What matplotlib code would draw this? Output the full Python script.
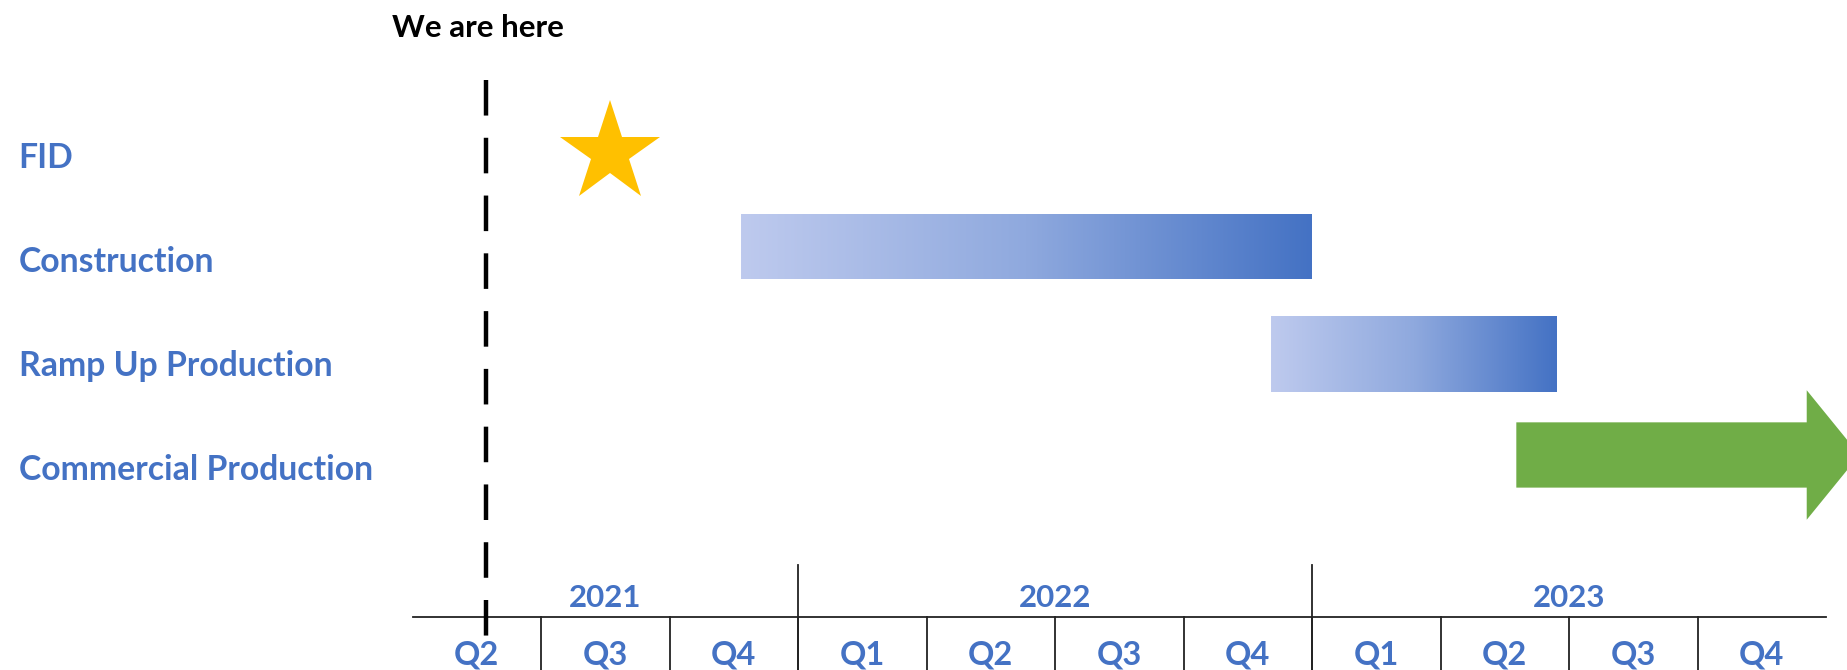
import numpy as np
import matplotlib
matplotlib.use("Agg")
import matplotlib.pyplot as plt
from matplotlib.colors import LinearSegmentedColormap
from matplotlib.patches import FancyArrow

# ---- data ----
tasks = ["FID", "Construction", "Ramp Up Production", "Commercial Production"]
quarter_labels = ["Q2", "Q3", "Q4", "Q1", "Q2", "Q3", "Q4", "Q1", "Q2", "Q3", "Q4"]
years = ["2021", "2022", "2023"]
quarters_per_year = [3, 4, 4]
fid_quarter = 1.54           # milestone (quarter index from start of 2021 Q2)
construction_span = (2.56, 7.0)
ramp_span = (6.68, 8.9)
commercial_start = 8.59
commercial_end = 11.26
today_quarter = 0.57
today_label = "We are here"

# ---- style ----
BLUE = "#4472C4"
LIGHT = "#BECAEE"
GREEN = "#70AD47"
GOLD = "#FFC000"
FONT = "Lato"

fig = plt.figure(figsize=(18.47, 6.70), dpi=100)
ax = fig.add_axes([0, 0, 1, 1])
ax.set_axis_off()

px_per_q = 128.5
x0_px = 412.5
row_px = 102.0
row0_px = 150.0
W, H = 1847, 670
xlim = (-x0_px / px_per_q, (W - x0_px) / px_per_q)
ylim = ((H - row0_px) / row_px, -row0_px / row_px)

cmap = LinearSegmentedColormap.from_list("g", [LIGHT, "#8FA9DE", BLUE])
grad = np.linspace(0, 1, 256).reshape(1, -1)

def gbar(span, row, h):
    ax.imshow(grad, extent=(span[0], span[1], row + h / 2, row - h / 2),
              aspect="auto", cmap=cmap, interpolation="bilinear", zorder=2)

# rows
gbar(construction_span, 1 - 0.05, 0.63)
gbar(ramp_span, 2, 0.74)
total_len = commercial_end - commercial_start
ax.add_patch(FancyArrow(commercial_start, 2.99, total_len, 0, width=0.64,
                        head_width=1.27, head_length=0.41,
                        length_includes_head=True, color=GREEN, lw=0, zorder=2))
ax.plot([fid_quarter], [0.03], marker="*", markersize=76, color=GOLD,
        markeredgewidth=0, zorder=3)

# task labels
for i, t in enumerate(tasks):
    ax.text(-3.065, i * 1.02 + 0.08, t, color=BLUE, fontsize=24.3,
            fontweight="bold", family=FONT, ha="left", va="center")

# today line
ax.plot([today_quarter, today_quarter], [-0.69, 4.86], color="black", lw=3.2,
        dashes=(8, 5), zorder=4)
ax.text(today_quarter - 0.06, -1.2, today_label, color="black", fontsize=22.5,
        fontweight="bold", family=FONT, ha="center", va="center")

# time axis
n_q = len(quarter_labels)
axis_row = 4.578
ax.plot([0, n_q], [axis_row, axis_row], color="#222222", lw=1.3, zorder=1)
for k in range(1, n_q):
    ax.plot([k, k], [axis_row, ylim[0]], color="#222222", lw=1.3, zorder=1)
for k, q in enumerate(quarter_labels):
    ax.text(k + 0.5, 4.95, q, color=BLUE, fontsize=23.5, fontweight="bold",
            family=FONT, ha="center", va="center")
start = 0
for y, n in zip(years, quarters_per_year):
    if start > 0:
        ax.plot([start, start], [4.07, ylim[0]], color="#222222", lw=1.3, zorder=1)
    ax.text(start + n / 2, 4.39, y, color=BLUE, fontsize=22.5, fontweight="bold",
            family=FONT, ha="center", va="center")
    start += n

ax.set_xlim(*xlim)
ax.set_ylim(*ylim)
fig.savefig("out.png", dpi=100)
